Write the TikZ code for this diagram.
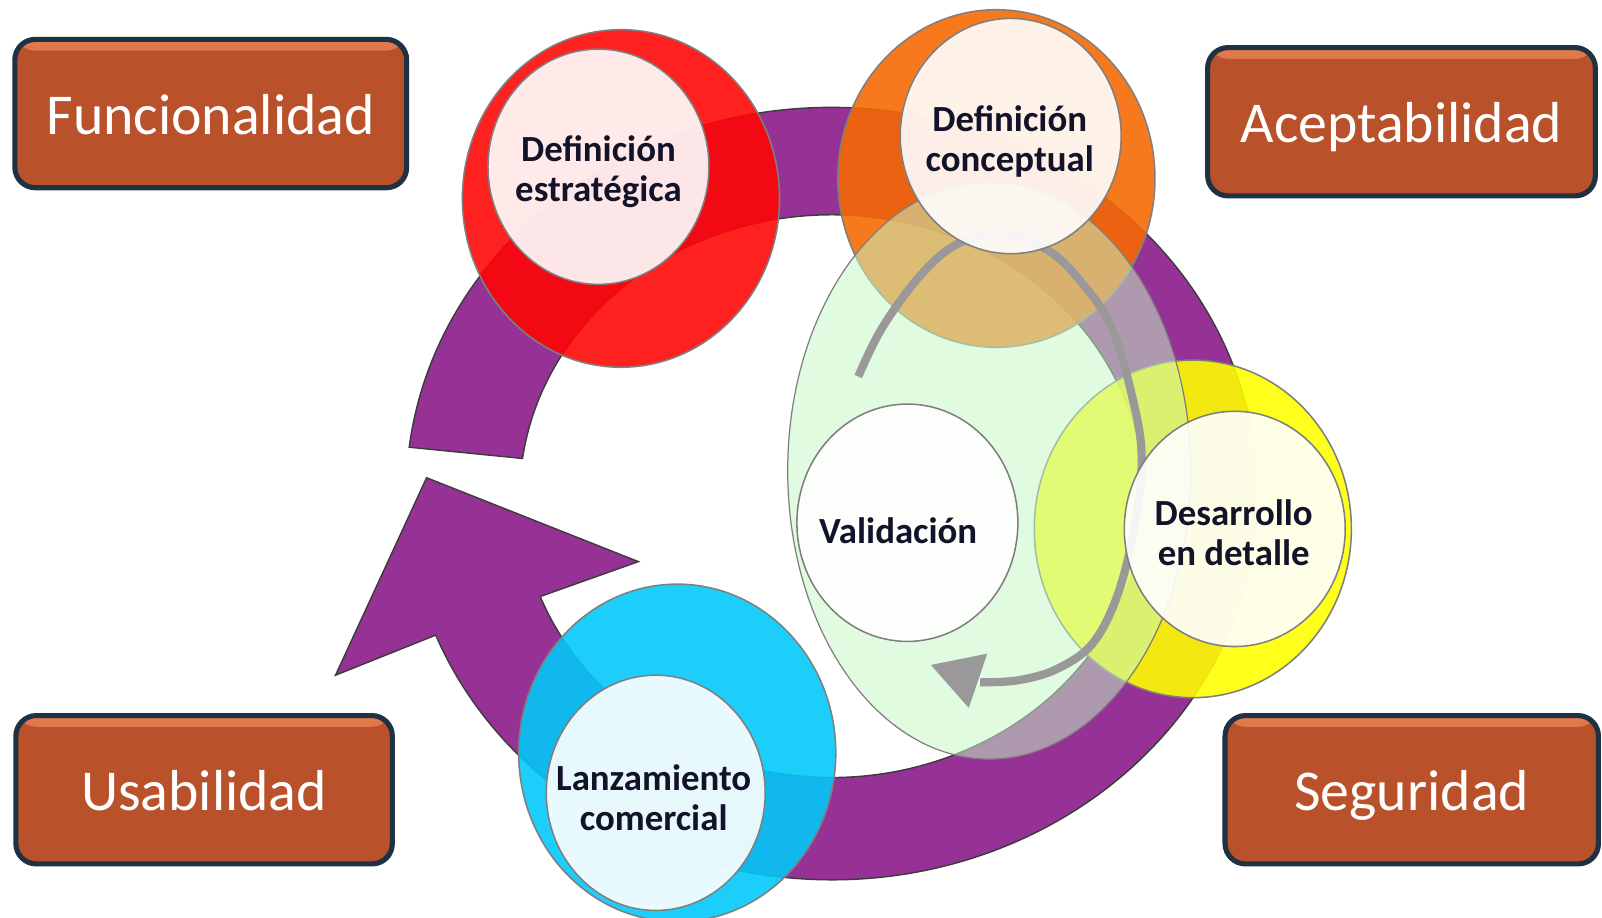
\documentclass[tikz,border=0pt]{standalone}
\usepackage{fontspec}
\setmainfont{Carlito}
\usetikzlibrary{shadows}
\definecolor{boxfill}{RGB}{185,82,43}
\definecolor{boxline}{RGB}{31,50,68}
\definecolor{boxhl}{RGB}{226,122,78}
\definecolor{ringpurple}{RGB}{150,50,150}
\definecolor{ringline}{RGB}{60,60,60}
\definecolor{cred}{RGB}{255,5,5}
\definecolor{corange}{RGB}{246,106,2}
\definecolor{cyellow}{RGB}{255,255,0}
\definecolor{ccyan}{RGB}{0,201,249}
\definecolor{cgreen}{RGB}{199,249,199}
\definecolor{edgegray}{RGB}{127,127,127}
\definecolor{arrowgray}{RGB}{153,153,153}
\definecolor{labelink}{RGB}{18,18,40}
\begin{document}
\begin{tikzpicture}[x=1pt,y=-1pt,
  qbox/.style={rounded corners=20pt, draw=boxline, line width=5pt, fill=boxfill,
    minimum height=145pt, inner sep=0pt, text=white,
    font=\fontsize{56.5}{60}\selectfont, text height=40pt, text depth=0pt,
    drop shadow={shadow xshift=2pt, shadow yshift=-2pt, opacity=0.35, fill=black},
    path picture={\shade[top color=boxhl, bottom color=boxfill]
      ([yshift=-2pt]path picture bounding box.north west) rectangle ([yshift=-11pt]path picture bounding box.north east);}},
  outerc/.style={fill opacity=0.89, draw=edgegray, line width=1.5pt},
  innerc/.style={fill=white, fill opacity=0.9, draw=edgegray, line width=1.5pt},
  steplabel/.style={align=center, anchor=base, inner sep=0pt, text=labelink,
    font=\bfseries\fontsize{36}{39}\selectfont},
  cyclearrow/.style={fill=ringpurple, draw=ringline, line width=1.4pt, line join=miter},
  looparrow/.style={draw=arrowgray, line width=8pt}
]
\useasboundingbox[fill=white] (0,0) rectangle (1566,897);

% corner boxes
\node[qbox, minimum width=383pt] (func) at (206,111) {Funcionalidad};
\node[qbox, minimum width=379pt] (acep) at (1370,119) {Aceptabilidad};
\node[qbox, minimum width=368pt] (usab) at (199.5,772) {Usabilidad};
\node[qbox, minimum width=365pt] (segu) at (1380,772) {Seguridad};

% purple cycle arrow
\path[cyclearrow] (400,437.15)
  arc[start angle=186.9, end angle=518.5, x radius=416, y radius=377.5]
  -- (328,660) -- (417,467) -- (624,549) -- (528.1,583.1)
  arc[start angle=519.1, end angle=187.7, x radius=305, y radius=275] -- cycle;

% outer coloured discs
\path[outerc, fill=cred]    (607,194)  ellipse [x radius=155, y radius=165];
\path[outerc, fill=corange] (974,174.5) ellipse [x radius=155, y radius=165];
\path[outerc, fill=cyellow] (1166,517) ellipse [x radius=155, y radius=165];
\path[outerc, fill=ccyan]   (662,736)  ellipse [x radius=155, y radius=165];

% green ellipse
\path[fill=cgreen, fill opacity=0.52, draw=edgegray, line width=1.2pt]
  (967,460) ellipse [x radius=197, y radius=282];

% grey loop arrow
\draw[looparrow] plot[smooth, tension=0.6] coordinates {
  (839,368) (862,321) (899,270) (935,239) (980,228) (1025,245) (1058,277)
  (1087,321) (1108,393) (1116,447) (1110,510) (1093,580) (1068,629)
  (1033,654) (995,665) (958,667)};
\fill[arrowgray] (910,650) -- (965,639) -- (947,692) -- cycle;

% inner discs
\path[innerc] (585,163)  ellipse [x radius=108, y radius=115];
\path[innerc] (988,133)  ellipse [x radius=108, y radius=115];
\path[innerc] (1207,517) ellipse [x radius=108, y radius=115];
\path[innerc] (641,775)  ellipse [x radius=107, y radius=115];
\path[innerc] (887,511)  ellipse [x radius=108, y radius=116];

% labels (base anchor = baseline of the last line)
\node[steplabel] (estr) at (585,197) {Definición\\estratégica};
\node[steplabel] (conc) at (987,168) {Definición\\conceptual};
\node[steplabel] (vali) at (878,531) {Validación};
\node[steplabel] (desa) at (1206,553) {Desarrollo\\en detalle};
\node[steplabel] (lanz) at (639,812) {Lanzamiento\\comercial};
\end{tikzpicture}
\end{document}
